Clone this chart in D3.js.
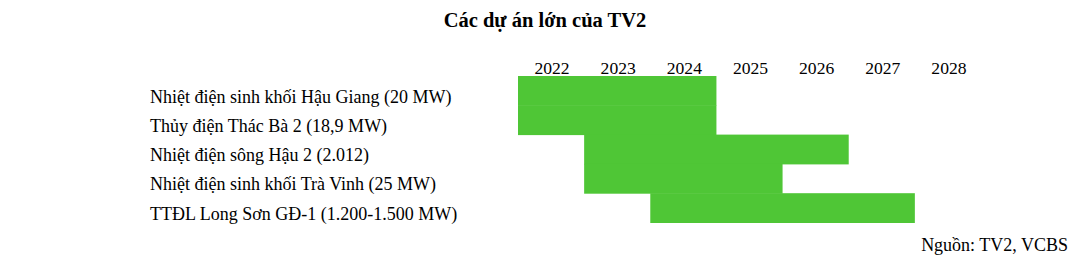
<!DOCTYPE html>
<html><head><meta charset="utf-8">
<script src="https://cdn.jsdelivr.net/npm/d3@7"></script>
<style>
html,body{margin:0;padding:0;background:#fff;}
svg text{font-family:"Liberation Serif","Times New Roman",serif;fill:#000;}
</style></head>
<body><svg id="c" width="1090" height="263"></svg>
<script>
const years = ["2022","2023","2024","2025","2026","2027","2028"];
const projects = [
  "Nhiệt điện sinh khối Hậu Giang (20 MW)",
  "Thủy điện Thác Bà 2 (18,9 MW)",
  "Nhiệt điện sông Hậu 2 (2.012)",
  "Nhiệt điện sinh khối Trà Vinh (25 MW)",
  "TTĐL Long Sơn GĐ-1 (1.200-1.500 MW)"
];
const startYears = ["2022","2022","2023","2023","2024"];
const endYears   = ["2024","2024","2026","2025","2027"];
const title = "Các dự án lớn của TV2";
const source = "Nguồn: TV2, VCBS";

const svg = d3.select("#c");
const x = d3.scaleBand().domain(years).range([518, 981]).padding(0);
const y = d3.scaleBand().domain(projects).range([76, 222.5]).padding(0);
const green = "#4fc636";

svg.append("text").attr("x", 545).attr("y", 27).attr("text-anchor","middle")
  .attr("font-weight","bold").attr("font-size", 20.5).text(title);

svg.selectAll("text.yr").data(years).enter().append("text").attr("class","yr")
  .attr("x", d => x(d) + x.bandwidth()/2 + 1).attr("y", 73.5)
  .attr("text-anchor","middle").attr("font-size", 17.6).text(d => d);

svg.selectAll("rect.bar").data(projects).enter().append("rect").attr("class","bar")
  .attr("x", (d,i) => x(startYears[i]))
  .attr("y", d => y(d))
  .attr("width", (d,i) => x(endYears[i]) + x.bandwidth() - x(startYears[i]))
  .attr("height", y.bandwidth() + 0.5)
  .attr("fill", green);

svg.selectAll("text.lbl").data(projects).enter().append("text").attr("class","lbl")
  .attr("x", 150).attr("y", d => y(d) + y.bandwidth() - 2.8)
  .attr("font-size", 18).text(d => d);

svg.append("text").attr("x", 1068).attr("y", 251).attr("text-anchor","end")
  .attr("font-size", 18).text(source);
</script></body></html>
